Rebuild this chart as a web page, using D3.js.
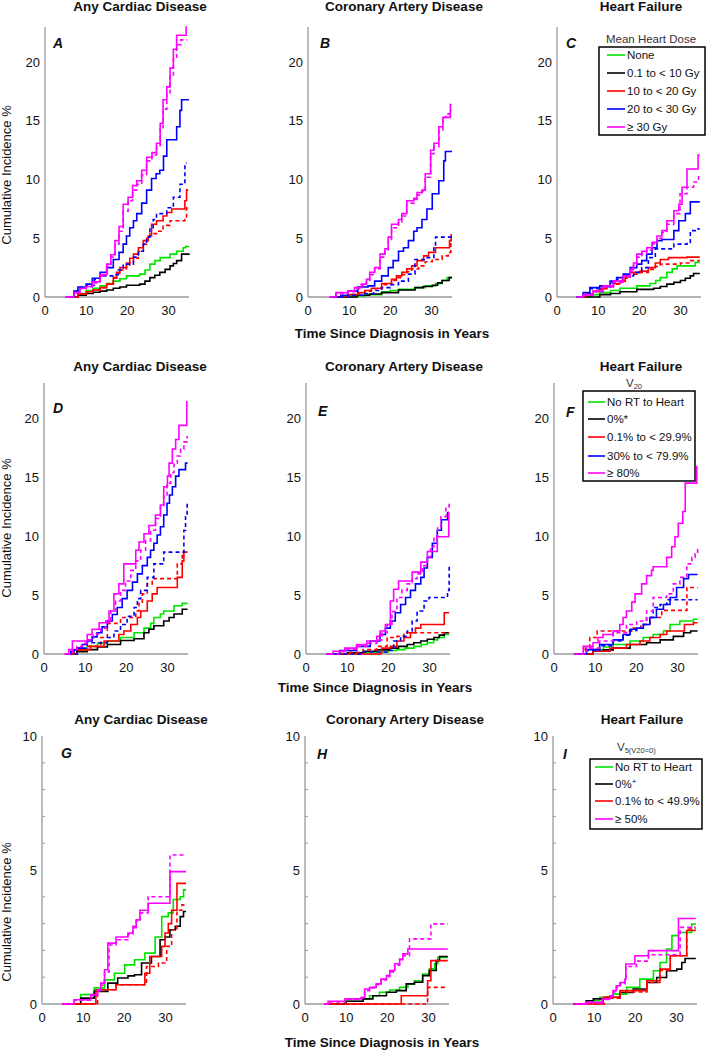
<!DOCTYPE html>
<html><head><meta charset="utf-8">
<script src="https://cdn.jsdelivr.net/npm/d3@7"></script>
<style>body{margin:0;background:#fff}svg{font-family:"Liberation Sans",Arial,sans-serif}</style>
</head><body><svg id="c" width="707" height="1050"></svg>
<script>
// ---------- DATA ----------
const xTicks = [0, 10, 20, 30];
const yTicksTall = [0, 5, 10, 15, 20];
const yTicksShort = [0, 5, 10];
const yMinorShort = [1,2,3,4,6,7,8,9];
const titles = ["Any Cardiac Disease", "Coronary Artery Disease", "Heart Failure"];
const panelLetters = ["A","B","C","D","E","F","G","H","I"];
const xLabel = "Time Since Diagnosis in Years";
const yLabel = "Cumulative Incidence %";

const legend1Title = "Mean Heart Dose";
const legend1Labels = ["None", "0.1 to < 10 Gy", "10 to < 20 Gy", "20 to < 30 Gy", "≥ 30 Gy"];
const legend2Labels = ["No RT to Heart", "0%*", "0.1% to < 29.9%", "30% to < 79.9%", "≥ 80%"];
const legend3Labels = ["No RT to Heart", "0%", "0.1% to < 49.9%", "≥ 50%"];

// Panel A
const A_green = [[5.5,0],[8,0.3],[10,0.55],[11.7,0.75],[13.4,0.95],[15,1.15],[16.6,1.35],[18.2,1.55],[19.8,1.8],[23,1.95],[24.3,2.3],[25.5,2.8],[26.7,3.1],[28,3.35],[30.4,3.65],[32,3.9],[33.6,4.2],[34.2,4.3],[35,4.3]];
const A_black = [[6,0],[8,0.15],[10,0.3],[11.7,0.4],[13.4,0.5],[15,0.6],[16.6,0.75],[18.2,0.85],[19.8,1.0],[23,1.1],[24.3,1.35],[25.5,1.65],[26.7,1.85],[27.9,2.1],[29.2,2.35],[30.4,2.65],[31.2,2.85],[32,3.1],[33.2,3.65],[35,3.7]];
const A_red = [[6,0],[8,0.25],[10.1,0.45],[11.7,0.6],[13.4,0.8],[15,1.1],[16.6,1.65],[17.4,2.1],[18.2,2.5],[19.8,2.9],[20.6,3.3],[21.5,3.65],[22.7,4.2],[23.9,4.8],[25.1,5.2],[25.9,6.2],[27.1,6.5],[28.7,6.9],[29.6,7.2],[30.8,7.5],[34,8.2],[34.4,9.1],[34.6,9.2]];
const A_redD = [[6,0],[8,0.25],[10.1,0.45],[11.7,0.6],[13.4,0.8],[15,1.1],[16.6,1.6],[17.4,2.0],[18.2,2.3],[19.8,2.7],[20.6,3.0],[21.5,3.3],[22.7,3.9],[23.9,4.5],[24.7,5.0],[25.5,5.4],[27.1,5.6],[28.7,6.1],[30.4,6.5],[34,6.6],[34.4,7.6],[34.6,7.8]];
const A_blue = [[5.5,0],[7,0.5],[8,0.85],[10,1.1],[11.5,1.6],[13.4,2.1],[15,2.5],[16.6,3.2],[18,3.8],[19,4.5],[19.8,5.2],[20.6,5.9],[21.5,6.5],[22.3,7.1],[23.5,8.0],[24.7,9.1],[25.9,10.1],[27,10.5],[27.9,10.8],[28.8,12.0],[29.6,13.4],[32,14.5],[32.8,15.9],[33.2,16.8],[35,16.8]];
const A_blueD = [[5.5,0],[7,0.5],[8,0.8],[10,1.0],[12,1.5],[13.4,1.8],[16.6,1.9],[17.8,2.3],[19,2.8],[21.5,3.4],[22.7,3.9],[23.9,4.5],[24.7,5.1],[25.5,5.9],[26.3,6.6],[27.1,7.1],[29.6,7.6],[31.2,8.5],[32.8,9.6],[34,11.4],[34.4,11.4]];
const A_mag = [[4.9,0],[7,0.4],[8.5,0.75],[10,0.9],[11.5,1.3],[13.4,1.9],[15,2.8],[16,3.6],[17,4.8],[18,6.0],[19,7.9],[20.2,8.5],[21.3,9.5],[22.3,9.9],[23.5,10.8],[24.7,11.9],[26,12.3],[27.1,13.1],[28,14.8],[28.7,16.8],[29.6,17.9],[30.4,19.5],[31.2,21.1],[32,22.3],[34.3,23.0],[34.5,23.0]];
const A_magD = [[5,0],[7,0.35],[8.5,0.7],[10,0.85],[11.5,1.2],[13.4,1.8],[15,2.6],[16,3.4],[17,4.5],[18,5.6],[19,7.3],[20.2,8.2],[21.3,9.1],[22.3,9.6],[23.5,10.4],[24.7,11.6],[26,12.1],[27.1,12.9],[28,14.3],[28.7,16.0],[29.6,17.3],[30.4,18.8],[31.2,20.3],[32,21.5],[33,21.9],[34.6,21.9]];

// Panel B
const B_green = [[6,0],[10,0.1],[13.8,0.2],[17.9,0.45],[20,0.55],[22,0.65],[26,0.8],[28.5,0.95],[31,1.15],[32.6,1.4],[33.8,1.65],[35,1.65]];
const B_black = [[6,0],[12,0.15],[15,0.25],[17.9,0.37],[22,0.6],[26,0.8],[28,0.9],[30.2,1.0],[31.5,1.2],[32.6,1.4],[34.3,1.65],[35,1.65]];
const B_red = [[6,0],[8,0.1],[10,0.2],[12.1,0.37],[13.8,0.55],[15.4,0.75],[17.9,1.15],[20.3,1.5],[21.5,1.8],[22.8,2.1],[24,2.4],[25.2,2.65],[26.5,3.1],[28.1,3.5],[29.3,3.8],[31,4.2],[34.4,4.8],[34.8,5.3],[35,5.3]];
const B_redD = [[6,0],[8,0.1],[10,0.2],[12.1,0.35],[13.8,0.5],[15.4,0.7],[17.9,1.05],[20.3,1.4],[21.5,1.65],[22.8,1.9],[24,2.15],[25.2,2.4],[26.9,2.65],[28.5,3.0],[30.2,3.2],[32.6,3.5],[34.1,3.8],[34.7,4.5],[35,4.5]];
const B_blue = [[5.7,0],[8,0.15],[9.7,0.5],[12.1,0.85],[14.6,0.95],[16.2,1.35],[17.9,1.8],[19.5,2.5],[20.7,3.1],[22,3.9],[23.2,4.2],[24.4,4.8],[25.7,5.6],[26.5,5.9],[27.7,6.6],[28.9,7.5],[30.2,8.8],[31.8,9.9],[33,11.6],[33.4,12.4],[35,12.4]];
const B_blueD = [[6,0],[10,0.15],[13.8,0.3],[16,0.55],[17.9,0.8],[20,1.05],[22,1.35],[24.4,1.95],[26,3.2],[28.5,3.35],[30.6,4.2],[31,5.1],[35,5.1]];
const B_mag = [[5.2,0],[6.8,0.37],[9.7,0.5],[11.3,0.8],[13,1.1],[14.2,1.5],[15,2.1],[16.2,2.5],[17.5,3.65],[18.7,4.1],[19.5,5.1],[20.3,6.2],[22,6.6],[22.8,7.1],[24,8.2],[25.7,8.4],[26.5,8.9],[27.7,9.1],[28.5,10.5],[29.8,12.5],[30.6,13.1],[31.8,14.5],[32.8,15.3],[34.6,16.4],[34.9,16.4]];
const B_magD = [[5.2,0],[6.8,0.3],[9.7,0.45],[11.3,0.7],[13,1.0],[14.2,1.4],[15,1.9],[16.2,2.4],[17.5,3.4],[18.7,3.9],[19.5,4.8],[20.3,5.9],[22,6.4],[22.8,6.9],[24,8.0],[25.7,8.3],[26.5,8.7],[27.7,9.0],[28.5,10.2],[29.8,12.2],[30.6,12.8],[31.8,14.2],[32.8,15.3],[33.6,15.6],[34.6,15.9],[34.9,15.9]];

// Panel C
const C_green = [[5.5,0],[8,0.2],[10.4,0.37],[13,0.55],[15.3,0.75],[19.4,0.95],[22.6,1.15],[24,1.4],[25.1,1.65],[26.7,2.1],[28,2.4],[29.2,2.65],[33.2,2.65],[33.6,2.95],[34.7,2.95]];
const C_black = [[5.5,0],[10.4,0.2],[13,0.3],[15.3,0.45],[19.4,0.65],[23.5,0.75],[25.1,0.9],[26.7,1.1],[28.4,1.25],[30,1.4],[31.2,1.6],[32.4,1.8],[33.2,2.0],[34.7,2.0]];
const C_red = [[5.5,0],[7,0.25],[8.8,0.5],[10.4,0.7],[12.1,0.95],[13.7,1.15],[15.3,1.35],[16.6,1.7],[17.8,2.1],[20.2,2.2],[22.2,2.5],[23.9,2.9],[25.1,3.2],[27.1,3.35],[31.6,3.4],[34.7,3.4]];
const C_redD = [[5.5,0],[7,0.2],[8.8,0.45],[10.4,0.65],[12.1,0.9],[13.7,1.1],[15.3,1.3],[16.6,1.6],[17.8,1.95],[20.2,2.1],[22.2,2.35],[23.9,2.6],[25.1,2.8],[30,2.9],[32.4,3.1],[34.7,3.1]];
const C_blue = [[4.7,0],[6.4,0.37],[8,0.8],[10.4,0.95],[12.9,1.35],[14.5,1.65],[16.1,1.95],[17.8,2.5],[19.4,2.8],[20.6,3.1],[21.8,3.65],[23.1,4.2],[24.3,4.8],[25.5,4.9],[28.4,5.65],[29.6,6.5],[31.2,7.1],[32.4,8.1],[34.7,8.1]];
const C_blueD = [[4.7,0],[6.4,0.3],[8,0.7],[10.4,0.85],[12.9,1.2],[14.5,1.5],[16.1,1.8],[18.6,2.1],[20.6,2.5],[22.2,3.35],[23.9,4.1],[26.3,4.1],[28.4,4.5],[31.6,4.65],[32.4,5.65],[33.6,5.8],[34.7,5.8]];
const C_mag = [[4.7,0],[6.4,0.2],[8.8,0.5],[11.2,0.95],[13.7,1.35],[16.1,1.8],[17.8,2.35],[18.6,2.9],[19.4,3.65],[20.6,3.9],[21.8,4.2],[23.1,4.65],[24.3,5.2],[25.5,5.65],[26.7,6.5],[28.4,7.35],[29.6,7.9],[30.4,9.35],[31.6,10.9],[34.3,12.1],[34.7,12.1]];
const C_magD = [[5,0],[6.4,0.15],[8.8,0.45],[11.2,0.85],[13.7,1.25],[16.1,1.7],[17.8,2.2],[18.6,2.7],[19.4,3.4],[20.6,3.7],[21.8,4.0],[23.1,4.5],[24.3,5.0],[25.5,5.5],[26.7,6.2],[28.4,7.1],[29.9,8.8],[31.6,9.35],[33.2,9.8],[34.4,10.4],[34.7,10.4]];

// Panel D
const D_green = [[5.3,0],[8,0.3],[10.5,0.65],[13,0.9],[15.4,1.1],[18.6,1.4],[21.9,1.8],[24.3,2.2],[25.9,2.6],[26.7,3.1],[28.3,3.4],[29.1,3.65],[31.6,4.1],[33.6,4.3],[34.9,4.3]];
const D_black = [[5.5,0],[8,0.2],[10.5,0.37],[13,0.6],[15.4,0.8],[18.6,1.15],[21.9,1.3],[24.3,1.8],[25.5,2.1],[26.7,2.4],[29.1,2.8],[30.4,3.1],[31.6,3.4],[33.6,3.8],[34.9,3.8]];
const D_red = [[5.3,0],[7.3,0.37],[11.3,0.65],[14.6,1.1],[18.2,1.65],[19.4,1.95],[21.1,2.5],[22.7,3.1],[23.5,3.65],[25.1,4.5],[26.3,5.1],[27.5,5.65],[32.4,6.5],[33.6,7.9],[34,8.65],[34.9,8.65]];
const D_redD = [[5.7,0],[8,0.3],[10.5,0.65],[13.8,1.4],[15.4,2.6],[18.6,3.1],[21.5,3.1],[22.3,3.65],[23.1,4.3],[23.9,5.1],[25.1,5.95],[26.3,6.4],[32.1,6.4],[32.4,7.65],[33.6,8.65],[34.9,8.65]];
const D_blue = [[5.3,0],[6.5,0.2],[7.3,0.35],[8.1,0.5],[9.3,0.8],[10.5,1.1],[11.7,1.45],[12.9,1.8],[14.1,2.3],[15.4,2.8],[16.6,3.35],[17.8,3.95],[19,4.7],[20.2,5.4],[21.5,6.1],[22.7,6.8],[23.9,7.5],[25.1,8.2],[25.9,8.8],[26.7,9.4],[27.5,10.1],[28.3,10.8],[29.1,11.8],[29.9,12.8],[30.5,13.5],[31.2,14.2],[32,15.1],[32.8,15.65],[34.4,16.2],[34.9,16.2]];
const D_blueD = [[5.7,0],[8.1,0.5],[10.5,0.95],[15.4,1.4],[17,1.95],[18.6,2.5],[20.2,3.2],[21.9,3.95],[22.7,4.7],[23.5,5.4],[25.1,6.5],[26.7,7.65],[29.1,8.65],[33.6,8.65],[34,10.5],[34.4,11.65],[34.8,12.8]];
const D_mag = [[4.9,0],[6,0.37],[6.9,1.1],[9.3,1.1],[10.5,1.65],[11.7,2.1],[13.4,2.65],[15.8,3.65],[17,5.1],[18.2,5.95],[19.4,7.65],[22.3,8.8],[23.1,9.5],[24.3,10.2],[25.5,10.9],[27.1,11.8],[28.3,12.65],[29.1,14.2],[30,15.1],[30.4,16.2],[31.2,17.4],[32,18.2],[32.8,19.4],[34.7,21.4],[34.9,21.4]];
const D_magD = [[5.5,0],[7,0.4],[8,0.65],[9.3,0.9],[10.5,1.2],[12,1.7],[13.8,2.2],[15,2.8],[16.2,3.65],[17.4,4.5],[18.6,5.4],[19.8,6.2],[21.1,7.1],[22.3,7.9],[23.5,8.8],[24.7,9.6],[25.9,10.5],[27.1,11.5],[28.3,12.5],[29.1,13.5],[29.9,14.5],[30.8,15.4],[31.6,16.2],[32.4,16.8],[33.2,17.4],[34,18.0],[34.8,18.5]];

// Panel E
const E_green = [[5.7,0],[13,0.1],[17.2,0.17],[20,0.3],[22.1,0.37],[24,0.5],[26.2,0.65],[28,0.8],[29.5,0.95],[31,1.2],[32,1.4],[33.6,1.65],[34.8,1.65]];
const E_black = [[5.7,0],[10,0.1],[13.9,0.23],[17,0.35],[20.5,0.5],[22.5,0.65],[24.6,0.8],[26.2,0.95],[27.9,1.1],[29.5,1.25],[31.1,1.4],[32.4,1.6],[33.6,1.8],[34.8,1.8]];
const E_red = [[5.7,0],[18.2,0.1],[18.4,0.5],[20.5,0.65],[22.1,1.1],[23.8,1.4],[25.4,1.8],[26.6,2.2],[27.9,2.5],[33.6,3.5],[34.8,3.5]];
const E_redD = [[5.7,0],[10,0.15],[13.9,0.37],[17.2,0.65],[19.7,1.4],[22.1,1.5],[23.8,1.8],[34.8,1.8]];
const E_blue = [[4.9,0],[8.2,0.3],[12.3,0.65],[15.6,1.1],[18,1.65],[19.3,2.2],[20.5,2.8],[21.7,3.5],[23,4.2],[24.2,4.8],[25.4,5.4],[26.6,5.95],[27.9,6.5],[28.7,7.3],[29.5,8.2],[30.7,9.4],[31.9,10.5],[32.9,11.4],[34.4,12.0],[34.8,12.0]];
const E_blueD = [[5.7,0],[13.9,0.17],[19.7,0.3],[21.3,1.1],[23,1.5],[24.6,1.95],[25.8,2.8],[27,3.65],[28.7,4.5],[29.9,4.8],[34,4.8],[34.4,5.4],[34.8,7.65]];
const E_mag = [[4.9,0],[6.6,0.23],[9.4,0.5],[12.3,0.8],[14.8,1.1],[17.2,1.5],[18,1.95],[19.3,2.5],[20.5,4.5],[21.3,5.5],[22.5,6.2],[25.8,6.95],[27.9,7.8],[29.5,8.7],[31.9,9.95],[34.7,12.0],[34.9,12.0]];
const E_magD = [[5.7,0],[8,0.2],[10,0.4],[12.3,0.65],[14.8,0.9],[17.2,1.2],[18.5,1.8],[19.7,2.5],[20.9,3.6],[22.1,4.8],[23.3,5.4],[24.6,5.95],[25.8,6.4],[27,6.8],[28.3,7.5],[29.5,8.2],[30.3,9.1],[31.1,9.95],[32,10.8],[32.8,11.65],[34,12.5],[34.8,12.9]];

// Panel F
const F_green = [[5,0],[9.5,0.37],[12,0.6],[14.4,0.8],[18.5,1.1],[21.7,1.4],[24.1,1.65],[26.6,1.95],[28.2,2.5],[30.6,2.8],[33.9,2.95],[34.9,2.95]];
const F_black = [[5,0],[9.5,0.23],[12,0.35],[14.4,0.5],[18.5,0.8],[22.5,0.95],[25.8,1.2],[29,1.5],[31.5,1.8],[33.2,1.95],[34.9,1.95]];
const F_red = [[5,0],[9.5,0.23],[13.6,0.5],[17.6,0.8],[20.9,1.1],[23.3,1.4],[25.8,1.65],[27.4,1.95],[31.7,2.5],[33.9,2.65],[34.9,2.65]];
const F_redD = [[5,0],[7.6,0.5],[8.7,1.4],[10.5,1.95],[19.3,2.2],[21.1,2.5],[23.3,3.1],[26.2,3.7],[32.3,5.65],[34.9,5.65]];
const F_blue = [[5,0],[7.9,0.37],[11.1,0.8],[14.4,1.2],[16.8,1.65],[18.5,2.1],[20.1,2.2],[21.7,2.5],[23.3,3.1],[24.9,3.8],[26.6,4.2],[28.2,4.8],[29.8,5.65],[31.5,6.4],[32.7,6.75],[34.9,6.75]];
const F_blueD = [[5,0],[7.9,0.3],[11.1,0.7],[14.4,1.1],[16.8,1.6],[18.5,2.0],[20.1,2.2],[21.7,2.5],[22.5,3.1],[24.1,3.95],[25.8,4.2],[27.4,4.6],[34.9,4.6]];
const F_mag = [[5,0],[7.1,0.65],[9.5,0.95],[10.7,1.4],[11.9,1.65],[14.4,1.95],[16,2.5],[16.8,3.1],[17.6,3.65],[18.9,4.4],[19.7,5.1],[21.3,5.95],[22.5,6.65],[23.7,7.1],[24.1,7.4],[27.4,8.2],[28.6,9.1],[29.4,9.95],[30.2,11.1],[31.3,12.1],[31.9,14.5],[34.7,15.9],[34.9,15.9]];
const F_magD = [[5,0],[7.9,0.5],[11.1,1.1],[14.4,1.8],[17.6,2.5],[20.1,2.8],[22.5,3.65],[24.1,4.8],[27.4,5.1],[29,5.95],[30.6,6.5],[32.3,7.65],[33.5,8.2],[34.3,8.5],[34.9,9.1]];

// Panel G
const G_green = [[5,0],[9.4,0.35],[12.7,0.6],[15.2,0.9],[17.6,1.15],[20.1,1.46],[22.5,1.65],[25,1.9],[27.5,2.5],[29.1,3.26],[30.7,3.4],[31.9,3.9],[33.6,4.0],[34.4,4.26],[35,4.26]];
const G_black = [[5,0],[9.4,0.22],[12.7,0.47],[16,0.78],[18.4,0.97],[20.9,1.05],[22.5,1.09],[24.2,1.53],[26.6,1.77],[28.7,2.4],[29.9,2.5],[31.1,2.77],[32.4,2.9],[33.6,3.26],[34.4,3.45],[35,3.45]];
const G_red = [[5,0],[13.1,0.53],[18,0.72],[25,1.15],[26.2,1.77],[29.1,2.15],[29.9,2.65],[30.7,3.0],[31.5,3.5],[32.8,4.5],[35,4.5]];
const G_redD = [[5,0],[13.5,0.53],[18,0.72],[25.4,1.4],[28.3,1.53],[30.3,2.15],[31.5,2.77],[32.8,3.5],[34,3.7],[35,3.7]];
const G_mag = [[4.9,0],[7.8,0.16],[11.9,0.35],[13.5,0.53],[14.3,0.78],[15.2,1.28],[16,2.27],[18,2.5],[20.9,2.65],[22.1,2.9],[22.9,3.14],[23.8,3.5],[25.8,3.76],[31.1,4.94],[35,4.94]];
const G_magD = [[5,0],[7.8,0.14],[11.9,0.32],[13.5,0.5],[14.3,0.7],[15.2,1.2],[16.3,2.2],[18,2.4],[20.9,2.6],[22.1,2.85],[22.9,3.1],[23.8,3.4],[25.8,4.0],[31.1,5.56],[35,5.56]];

// Panel H
const H_green = [[4.7,0],[10,0.1],[14.1,0.19],[15.7,0.31],[18.1,0.44],[20.6,0.52],[23,0.62],[25,0.75],[26.6,0.87],[28.6,1.12],[30.2,1.31],[31.5,1.5],[32.3,1.74],[34.7,1.74]];
const H_black = [[4.7,0],[10,0.1],[14.1,0.19],[16.5,0.31],[19.8,0.44],[22.2,0.5],[24.6,0.75],[26.6,0.81],[28.6,1.06],[30.2,1.25],[31.9,1.62],[32.7,1.77],[34.7,1.77]];
const H_red = [[4.7,0],[23.4,0.31],[29.8,0.87],[30.6,1.62],[34.7,1.62]];
const H_redD = [[4.7,0],[29.8,0.62],[34.7,0.62]];
const H_mag = [[4.7,0],[5.6,0.1],[9.7,0.19],[13.7,0.25],[14.5,0.56],[15.7,0.62],[17.3,0.75],[18.5,0.93],[19.8,1.06],[20.6,1.25],[21.8,1.5],[23,1.68],[23.8,1.87],[25,2.05],[34.7,2.05]];
const H_magD = [[4.7,0],[5.6,0.08],[9.7,0.17],[13.7,0.23],[14.5,0.5],[15.7,0.6],[17.3,0.72],[18.5,0.9],[19.8,1.03],[20.6,1.2],[21.8,1.45],[23,1.65],[23.8,1.8],[25.4,2.43],[30.6,2.99],[34.7,2.99]];

// Panel I
const I_green = [[4.9,0],[8.1,0.12],[11.4,0.25],[14.6,0.37],[17.9,0.62],[21.1,0.93],[24.4,1.24],[26,1.55],[27.6,2.05],[28.9,2.55],[30.5,2.67],[33.7,2.98],[34.7,2.98]];
const I_black = [[4.9,0],[8.1,0.12],[9.8,0.19],[13,0.25],[16.3,0.43],[19.5,0.56],[22.8,0.8],[25.2,0.99],[27.6,1.24],[30.1,1.3],[31.3,1.55],[32.1,1.7],[34.7,1.7]];
const I_red = [[5,0],[12.2,0.25],[16.3,0.5],[22.8,0.87],[26,1.3],[28.5,1.8],[32.5,2.74],[34.7,2.74]];
const I_redD = [[5,0],[12.5,0.22],[16.3,0.45],[22.8,0.8],[26,1.25],[28.5,1.8],[32.5,2.8],[34.7,2.8]];
const I_mag = [[4.9,0],[8.1,0.06],[12,0.19],[13.8,0.31],[14.6,0.5],[15.4,0.68],[16.3,0.8],[17.5,0.93],[17.7,1.49],[19.9,1.8],[23.2,1.99],[30.5,3.19],[34.7,3.19]];
const I_magD = [[5.3,0],[8.1,0.05],[12,0.17],[13.8,0.28],[14.6,0.45],[15.4,0.62],[16.3,0.75],[17.5,0.9],[17.7,1.4],[20.3,1.6],[23.2,1.84],[30.9,2.86],[34.7,2.86]];

// ---------- STYLE / LAYOUT ----------
const COL = {green:"#00e400", black:"#000000", red:"#ff0000", blue:"#0000ff", mag:"#ff00ff"};
const rowsLayout = [
  {top:27, bottom:297, ymax:23, lefts:[45,308,557], titleY:11, xlabY:338, xlabX:392, ylabY:175, yt:yTicksTall},
  {top:383, bottom:654, ymax:23, lefts:[44,306,554], titleY:371, xlabY:692, xlabX:375, ylabY:528, yt:yTicksTall},
  {top:736, bottom:1004, ymax:10, lefts:[42,305,553], titleY:724, xlabY:1047, xlabX:382, ylabY:912, yt:yTicksShort}
];
const titleX = [140, 404, 641];
const letterOff = [[8,12,9],[9,12,12],[19,12,10]];
const letterY = [[48,48,48],[413,416,417],[758,759,759]];
const W = 144;

const panels = [
  [A_green,A_black,A_redD,A_red,A_blueD,A_blue,A_magD,A_mag],
  [B_green,B_black,B_redD,B_red,B_blueD,B_blue,B_magD,B_mag],
  [C_green,C_black,C_redD,C_red,C_blueD,C_blue,C_magD,C_mag],
  [D_green,D_black,D_redD,D_red,D_blueD,D_blue,D_magD,D_mag],
  [E_green,E_black,E_redD,E_red,E_blueD,E_blue,E_magD,E_mag],
  [F_green,F_black,F_redD,F_red,F_blueD,F_blue,F_magD,F_mag],
  [G_green,G_black,G_redD,G_red,null,null,G_magD,G_mag],
  [H_green,H_black,H_redD,H_red,null,null,H_magD,H_mag],
  [I_green,I_black,I_redD,I_red,null,null,I_magD,I_mag]
];
const seriesStyle = [
  {c:COL.green,d:null},{c:COL.black,d:null},{c:COL.red,d:"4,3"},{c:COL.red,d:null},
  {c:COL.blue,d:"4,3"},{c:COL.blue,d:null},{c:COL.mag,d:"4,3"},{c:COL.mag,d:null}
];

const svg = d3.select("#c");
const AX = "#9a9a9a";

panels.forEach((series, i) => {
  const r = Math.floor(i/3), c = i%3, L = rowsLayout[r];
  const left = L.lefts[c];
  const x = d3.scaleLinear().domain([0,35]).range([left, left+W]);
  const y = d3.scaleLinear().domain([0,L.ymax]).range([L.bottom, L.top]);
  const g = svg.append("g");
  // axes lines
  g.append("line").attr("x1",x(0)).attr("x2",x(0)).attr("y1",y(0)).attr("y2",y(L.ymax)).attr("stroke",AX).attr("stroke-width",1.3);
  g.append("line").attr("x1",x(0)).attr("x2",x(35)).attr("y1",y(0)).attr("y2",y(0)).attr("stroke",AX).attr("stroke-width",1.3);
  if (r===2) {
    yMinorShort.forEach(v => g.append("line").attr("x1",x(0)).attr("x2",x(0)+3).attr("y1",y(v)).attr("y2",y(v)).attr("stroke",AX).attr("stroke-width",1));
  }
  xTicks.forEach(t => g.append("text").attr("x",x(t)).attr("y",y(0)+18).attr("text-anchor","middle").attr("font-size",13).attr("fill","#111").text(t));
  L.yt.forEach(v => g.append("text").attr("x",x(0)-5).attr("y",y(v)).attr("dy","0.35em").attr("text-anchor","end").attr("font-size",13).attr("fill","#111").text(v));
  // curves
  const line = d3.line().x(d=>x(d[0])).y(d=>y(d[1])).curve(d3.curveStepAfter);
  series.forEach((s, k) => {
    if (!s) return;
    const st = seriesStyle[k];
    g.append("path").attr("d", line(s)).attr("fill","none").attr("stroke",st.c).attr("stroke-width",1.6)
      .attr("stroke-dasharray", st.d).attr("stroke-linejoin","miter");
  });
  // title & letter
  svg.append("text").attr("x", titleX[c] + (r===2?1:0)).attr("y", L.titleY).attr("text-anchor","middle")
    .attr("font-size",13.5).attr("font-weight","bold").attr("fill","#111").text(titles[c]);
  svg.append("text").attr("x", left + letterOff[r][c]).attr("y", letterY[r][c]).attr("font-size",14)
    .attr("font-weight","bold").attr("font-style","italic").attr("fill","#111").text(panelLetters[i]);
});

rowsLayout.forEach(L => {
  svg.append("text").attr("x",L.xlabX).attr("y",L.xlabY).attr("text-anchor","middle").attr("font-size",13.5)
    .attr("font-weight","bold").attr("fill","#111").text(xLabel);
  svg.append("text").attr("transform",`translate(11,${L.ylabY}) rotate(-90)`).attr("text-anchor","middle")
    .attr("font-size",13).attr("fill","#111").text(yLabel);
});

// ---------- LEGENDS ----------
function legend(box, lineX, textX, ys, labels, colors) {
  svg.append("rect").attr("x",box[0]).attr("y",box[1]).attr("width",box[2]).attr("height",box[3])
    .attr("fill","#fff").attr("stroke","#000").attr("stroke-width",1.5);
  labels.forEach((lab, k) => {
    svg.append("line").attr("x1",lineX[0]).attr("x2",lineX[1]).attr("y1",ys[k]).attr("y2",ys[k])
      .attr("stroke",colors[k]).attr("stroke-width",1.6);
    const t = svg.append("text").attr("x",textX).attr("y",ys[k]).attr("dy","0.35em").attr("font-size",11.5).attr("fill","#111");
    t.text(lab);
    if (labels === legend3Labels && k===1) t.append("tspan").attr("font-size",8).attr("dy","-4").text("+");
  });
}
const colors5 = [COL.green, COL.black, COL.red, COL.blue, COL.mag];
const colors4 = [COL.green, COL.black, COL.red, COL.mag];

svg.append("text").attr("x",651).attr("y",43).attr("text-anchor","middle").attr("font-size",11.5).attr("fill","#333").text(legend1Title);
legend([599,47,106,88],[607,625],627,[55,73,91,109,127],legend1Labels,colors5);

const t2 = svg.append("text").attr("x",626).attr("y",387).attr("font-size",11.5).attr("fill","#333");
t2.append("tspan").text("V");
t2.append("tspan").attr("font-size",7.5).attr("dy",2).text("20");
legend([583,391,112,90],[588,605],607,[402,419,437,456,473],legend2Labels,colors5);

const t3 = svg.append("text").attr("x",617).attr("y",751).attr("font-size",11.5).attr("fill","#333");
t3.append("tspan").text("V");
t3.append("tspan").attr("font-size",7.5).attr("dy",2).text("5(V20=0)");
legend([590,759,112,70],[595,613],615,[767,784,801,819],legend3Labels,colors4);
</script></body></html>
